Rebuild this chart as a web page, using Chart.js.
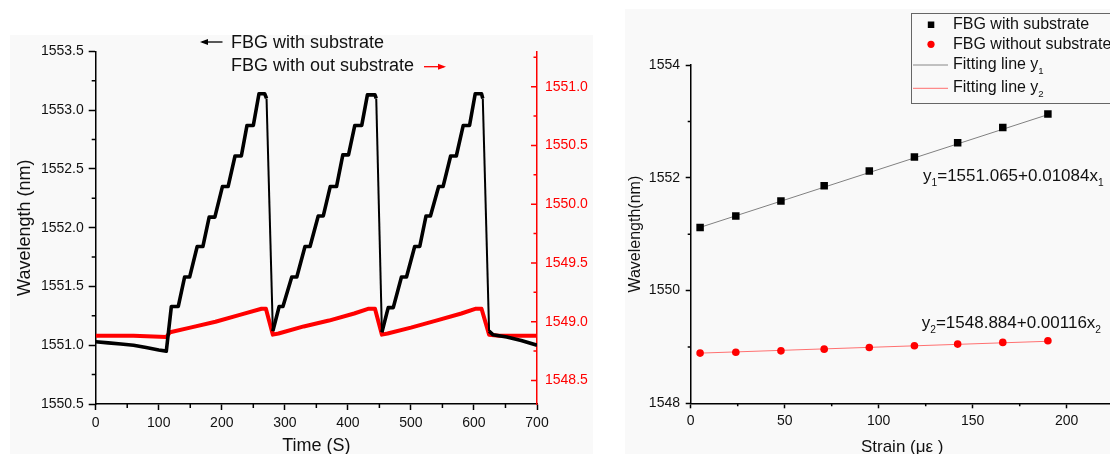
<!DOCTYPE html>
<html>
<head>
<meta charset="utf-8">
<script src="https://cdn.jsdelivr.net/npm/chart.js@4.4.1/dist/chart.umd.min.js"></script>
<style>
html, body { margin: 0; padding: 0; background: #fff; width: 1110px; height: 454px; overflow: hidden; }
.panel { position: absolute; background: #f9f9f9; overflow: hidden; }
#leftBox { left: 10px; top: 35px; width: 583px; height: 430px; }
#rightBox { left: 625px; top: 9px; width: 500px; height: 456px; }
canvas { display: block; }
</style>
</head>
<body>
<div class="panel" id="leftBox"><canvas id="timeChart" width="583" height="430"></canvas></div>
<div class="panel" id="rightBox"><canvas id="strainChart" width="500" height="456"></canvas></div>
<script>
const FONT = "'Liberation Sans', Arial, sans-serif";

// left panel: wavelength vs time
const timeBlack = [0, 20, 40, 60, 80, 100, 112, 120, 131, 141, 149, 161, 170, 180, 189, 201, 210, 221, 231, 240, 250, 259, 268, 271, 281,
  291, 297, 311, 319, 332, 340, 353, 361, 372, 382, 392, 401, 411, 422, 431, 443, 445, 454,
  464, 472, 485, 493, 506, 514, 524, 531, 544, 551, 563, 572, 583, 593, 602, 612, 614, 624, 630, 652, 675, 700];
const waveBlack = [1551.03, 1551.02, 1551.01, 1551.00, 1550.98, 1550.96, 1550.95, 1551.33, 1551.33, 1551.58, 1551.58, 1551.84, 1551.84, 1552.09, 1552.09, 1552.35, 1552.35, 1552.61, 1552.61, 1552.87, 1552.87, 1553.14, 1553.14, 1553.10, 1551.12,
  1551.33, 1551.33, 1551.58, 1551.58, 1551.84, 1551.84, 1552.10, 1552.10, 1552.35, 1552.35, 1552.62, 1552.62, 1552.87, 1552.87, 1553.13, 1553.13, 1553.10, 1551.11,
  1551.32, 1551.32, 1551.58, 1551.58, 1551.84, 1551.84, 1552.10, 1552.10, 1552.35, 1552.35, 1552.61, 1552.61, 1552.87, 1552.87, 1553.14, 1553.14, 1553.10, 1551.12, 1551.09, 1551.07, 1551.04, 1551.00];

const timeRed = [0, 60, 112, 118, 150, 190, 230, 263, 270, 281, 290, 330, 370, 410, 432, 443, 454, 463, 500, 540, 580, 602, 612, 624, 640, 700];
const waveRed = [1548.88, 1548.88, 1548.87, 1548.91, 1548.95, 1549.00, 1549.06, 1549.11, 1549.11, 1548.89, 1548.90, 1548.96, 1549.01, 1549.07, 1549.11, 1549.11, 1548.89, 1548.90, 1548.95, 1549.01, 1549.07, 1549.11, 1549.11, 1548.89, 1548.88, 1548.88];

const timeTicks = [0, 100, 200, 300, 400, 500, 600, 700];
const timeMinor = [50, 150, 250, 350, 450, 550, 650];
const leftTicks = [1550.5, 1551.0, 1551.5, 1552.0, 1552.5, 1553.0, 1553.5];
const leftMinor = [1550.75, 1551.25, 1551.75, 1552.25, 1552.75, 1553.25];
const redTicks = [1548.5, 1549.0, 1549.5, 1550.0, 1550.5, 1551.0];
const redMinor = [1548.75, 1549.25, 1549.75, 1550.25, 1550.75, 1551.25];

// right panel: wavelength vs strain
const strain = [5, 24, 48, 71, 95, 119, 142, 166, 190];
const waveWith = [1551.12, 1551.32, 1551.59, 1551.86, 1552.12, 1552.37, 1552.62, 1552.89, 1553.13];
const waveWithout = [1548.89, 1548.905, 1548.93, 1548.96, 1548.99, 1549.02, 1549.05, 1549.08, 1549.11];
const fitX = [5, 190];
const fit1Y = [1551.12, 1553.12];
const fit2Y = [1548.89, 1549.10];

const strainTicks = [0, 50, 100, 150, 200];
const strainMinor = [25, 75, 125, 175];
const strainYTicks = [1548, 1550, 1552, 1554];
const strainYMinor = [1549, 1551, 1553];

const pts = (xs, ys) => xs.map((x, i) => ({x: x, y: ys[i]}));
const setTicks = arr => axis => { axis.ticks = arr.map(v => ({value: v})); };

// minor / inward tick marks drawn through the scales
const tickMarks = {
  id: 'tickMarks',
  afterDraw(chart, args, opts) {
    const ctx = chart.ctx, area = chart.chartArea;
    ctx.save();
    opts.marks.forEach(m => {
      const s = chart.scales[m.axis];
      ctx.strokeStyle = m.color;
      ctx.lineWidth = 1.5;
      ctx.beginPath();
      m.values.forEach(v => {
        const p = s.getPixelForValue(v);
        if (s.isHorizontal()) {
          ctx.moveTo(p, area.bottom);
          ctx.lineTo(p, area.bottom + m.len);
        } else {
          const x0 = m.edge === 'right' ? area.right : area.left;
          ctx.moveTo(x0, p);
          ctx.lineTo(x0 - m.len, p);
        }
      });
      ctx.stroke();
    });
    ctx.restore();
  }
};

function richText(ctx, x, y, parts, size, color) {
  ctx.fillStyle = color;
  ctx.textBaseline = 'middle';
  ctx.textAlign = 'left';
  parts.forEach(([txt, sub]) => {
    ctx.font = (sub ? size * 0.6 : size) + 'px ' + FONT;
    ctx.fillText(txt, x, sub ? y + size * 0.4 : y);
    x += ctx.measureText(txt).width;
  });
}

function arrow(ctx, x1, x2, y, color) {
  ctx.save();
  ctx.strokeStyle = color;
  ctx.fillStyle = color;
  ctx.lineWidth = 1.3;
  ctx.beginPath();
  ctx.moveTo(x1, y);
  ctx.lineTo(x2, y);
  ctx.stroke();
  const d = x2 > x1 ? 1 : -1;
  ctx.beginPath();
  ctx.moveTo(x2 + d * 2, y);
  ctx.lineTo(x2 - d * 6, y - 3);
  ctx.lineTo(x2 - d * 6, y + 3);
  ctx.closePath();
  ctx.fill();
  ctx.restore();
}

const timeNotes = {
  id: 'timeNotes',
  afterDraw(chart) {
    const ctx = chart.ctx;
    ctx.save();
    arrow(ctx, 212.5, 192, 7, '#000');
    richText(ctx, 221, 8.5, [['FBG with substrate', false]], 18, '#111');
    richText(ctx, 221, 31.5, [['FBG with out substrate', false]], 18, '#111');
    arrow(ctx, 414, 434, 31.7, '#ff0000');
    ctx.restore();
  }
};

const strainNotes = {
  id: 'strainNotes',
  afterDraw(chart) {
    const ctx = chart.ctx, sx = chart.scales.x, sy = chart.scales.y;
    ctx.save();
    // legend box
    ctx.strokeStyle = '#666';
    ctx.lineWidth = 1;
    ctx.strokeRect(286.5, 4.5, 400, 90);
    ctx.fillStyle = '#000';
    ctx.fillRect(302.8, 12.5, 6.5, 6.5);
    ctx.fillStyle = '#ff0000';
    ctx.beginPath();
    ctx.arc(306, 35.3, 3.6, 0, Math.PI * 2);
    ctx.fill();
    ctx.strokeStyle = '#888';
    ctx.beginPath(); ctx.moveTo(288, 56); ctx.lineTo(323, 56); ctx.stroke();
    ctx.strokeStyle = '#ff7070';
    ctx.beginPath(); ctx.moveTo(288, 79.3); ctx.lineTo(323, 79.3); ctx.stroke();
    richText(ctx, 328, 16, [['FBG with substrate', false]], 16, '#111');
    richText(ctx, 328, 35.3, [['FBG without substrate', false]], 16, '#111');
    richText(ctx, 328, 55.5, [['Fitting line y', false], ['1', true]], 16, '#111');
    richText(ctx, 328, 78.8, [['Fitting line y', false], ['2', true]], 16, '#111');
    // fit equations
    richText(ctx, sx.getPixelForValue(123.6), sy.getPixelForValue(1552.02),
      [['y', false], ['1', true], ['=1551.065+0.01084x', false], ['1', true]], 17, '#111');
    richText(ctx, sx.getPixelForValue(122.9), sy.getPixelForValue(1549.42),
      [['y', false], ['2', true], ['=1548.884+0.00116x', false], ['2', true]], 17, '#111');
    ctx.restore();
  }
};

const tickFont = {family: FONT, size: 14};

new Chart(document.getElementById('timeChart'), {
  type: 'line',
  data: {
    datasets: [
      { label: 'FBG with substrate', data: pts(timeBlack, waveBlack), yAxisID: 'y',
        borderColor: '#000', borderWidth: 3.6, pointRadius: 0, tension: 0, borderJoinStyle: 'round',
        // the fast drops are drawn thinner, as in the source plot
        segment: {borderWidth: c => (c.p1.parsed.y < c.p0.parsed.y - 1 ? 2 : 3.6)} },
      { label: 'FBG with out substrate', data: pts(timeRed, waveRed), yAxisID: 'y2',
        borderColor: '#ff0000', borderWidth: 4, pointRadius: 0, tension: 0, borderJoinStyle: 'round' }
    ]
  },
  options: {
    responsive: false,
    animation: false,
    layout: {padding: {top: 12.7, left: 0, right: 0, bottom: 0}},
    plugins: {
      legend: {display: false},
      tooltip: {enabled: false},
      tickMarks: {marks: [
        {axis: 'y', values: leftMinor, len: 4, color: '#000', edge: 'left'},
        {axis: 'x', values: timeMinor, len: 4, color: '#000'},
        {axis: 'y2', values: redTicks, len: 6, color: '#ff0000', edge: 'right'},
        {axis: 'y2', values: redMinor, len: 3.5, color: '#ff0000', edge: 'right'}
      ]}
    },
    scales: {
      x: {
        type: 'linear', min: 0, max: 700,
        afterBuildTicks: setTicks(timeTicks),
        afterFit: s => { s.height = 61; },
        grid: {drawOnChartArea: false, tickLength: 6, tickColor: '#000', tickWidth: 1.5},
        border: {color: '#000', width: 1.5},
        ticks: {color: '#111', font: tickFont, padding: 4.3, maxRotation: 0, callback: v => String(v)},
        title: {display: true, text: 'Time (S)', color: '#111', font: {family: FONT, size: 18}, padding: {top: 0, bottom: 8.2}}
      },
      y: {
        position: 'left', min: 1550.5, max: 1553.5,
        afterBuildTicks: setTicks(leftTicks),
        afterFit: s => { s.width = 85.7; },
        grid: {drawOnChartArea: false, tickLength: 7, tickColor: '#000', tickWidth: 1.5},
        border: {color: '#000', width: 1.5},
        ticks: {color: '#111', font: tickFont, padding: 5, callback: v => v.toFixed(1)},
        title: {display: true, text: 'Wavelength (nm)', color: '#111', font: {family: FONT, size: 18}, padding: {top: 4.2, bottom: 0}}
      },
      y2: {
        position: 'right', min: 1548.3, max: 1551.3,
        afterBuildTicks: setTicks(redTicks),
        afterFit: s => { s.width = 56; },
        grid: {drawOnChartArea: false, drawTicks: false},
        border: {color: '#ff0000', width: 1.5},
        ticks: {color: '#ff0000', font: tickFont, padding: 8, callback: v => v.toFixed(1)}
      }
    }
  },
  plugins: [tickMarks, timeNotes]
});

new Chart(document.getElementById('strainChart'), {
  type: 'scatter',
  data: {
    datasets: [
      { label: 'FBG with substrate', data: pts(strain, waveWith), pointStyle: 'rect', pointRadius: 5.3,
        backgroundColor: '#000', borderColor: '#000', borderWidth: 0 },
      { label: 'FBG without substrate', data: pts(strain, waveWithout), pointStyle: 'circle', pointRadius: 3.8,
        backgroundColor: '#ff0000', borderColor: '#ff0000', borderWidth: 0 },
      { label: 'Fitting line y1', data: pts(fitX, fit1Y), showLine: true, pointRadius: 0,
        borderColor: '#808080', borderWidth: 1 },
      { label: 'Fitting line y2', data: pts(fitX, fit2Y), showLine: true, pointRadius: 0,
        borderColor: '#ff7070', borderWidth: 1 }
    ]
  },
  options: {
    responsive: false,
    animation: false,
    layout: {padding: {top: 56, left: 0, right: 11.3, bottom: 0}},
    plugins: {
      legend: {display: false},
      tooltip: {enabled: false},
      tickMarks: {marks: [
        {axis: 'y', values: strainYMinor, len: 3, color: '#000', edge: 'left'},
        {axis: 'x', values: strainMinor, len: 3, color: '#000'}
      ]}
    },
    scales: {
      x: {
        type: 'linear', min: 0, max: 225,
        afterBuildTicks: setTicks(strainTicks),
        afterFit: s => { s.height = 61.7; },
        grid: {drawOnChartArea: false, tickLength: 5, tickColor: '#000', tickWidth: 1.5},
        border: {color: '#000', width: 1.5},
        ticks: {color: '#111', font: tickFont, padding: 4, maxRotation: 0, callback: v => String(v)},
        title: {display: true, text: 'Strain (με )', color: '#111', font: {family: FONT, size: 17}, padding: {top: 0, bottom: 7.8}}
      },
      y: {
        position: 'left', min: 1548, max: 1554,
        afterBuildTicks: setTicks(strainYTicks),
        afterFit: s => { s.width = 65.7; },
        grid: {drawOnChartArea: false, tickLength: 5, tickColor: '#000', tickWidth: 1.5},
        border: {color: '#000', width: 1.5},
        ticks: {color: '#111', font: tickFont, padding: 5.7, callback: v => String(v)},
        title: {display: true, text: 'Wavelength(nm)', color: '#111', font: {family: FONT, size: 16}, padding: {top: 0.9, bottom: 0}}
      }
    }
  },
  plugins: [tickMarks, strainNotes]
});
</script>
</body>
</html>
